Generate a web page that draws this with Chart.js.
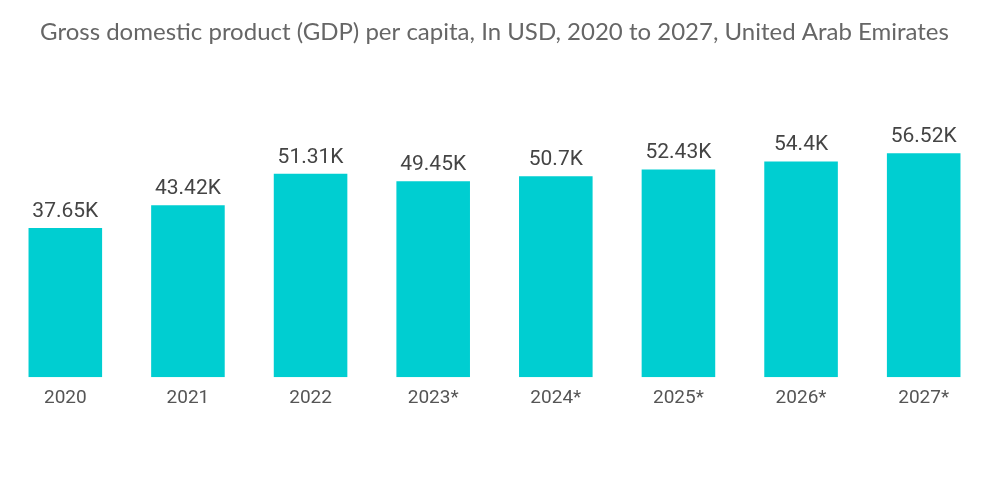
<!DOCTYPE html>
<html>
<head>
<meta charset="utf-8">
<script src="https://cdn.jsdelivr.net/npm/chart.js@4"></script>
<style>
	html, body { margin: 0; padding: 0; background: #fff; }
	#wrap { width: 1000px; height: 504px; }
</style>
</head>
<body>
<div id="wrap"><canvas id="gdpChart"></canvas></div>
<script>
const years = ['2020', '2021', '2022', '2023*', '2024*', '2025*', '2026*', '2027*'];
const gdpPerCapita = [37.65, 43.42, 51.31, 49.45, 50.7, 52.43, 54.4, 56.52];
const valueLabels = ['37.65K', '43.42K', '51.31K', '49.45K', '50.7K', '52.43K', '54.4K', '56.52K'];

// draws the value text above each bar
const barValues = {
	id: 'barValues',
	afterDatasetsDraw(chart) {
		const ctx = chart.ctx;
		const meta = chart.getDatasetMeta(0);
		ctx.save();
		ctx.font = '21px Roboto, sans-serif';
		ctx.fillStyle = '#444';
		ctx.textAlign = 'center';
		ctx.textBaseline = 'bottom';
		meta.data.forEach((bar, i) => {
			ctx.fillText(valueLabels[i], bar.x, bar.y - 6);
		});
		ctx.restore();
	}
};

let chart = new Chart(document.getElementById('gdpChart'), {
	type: 'bar',
	data: {
		labels: years,
		datasets: [{
			data: gdpPerCapita,
			backgroundColor: '#00CED1',
			categoryPercentage: 1,
			barPercentage: 0.6
		}]
	},
	options: {
		responsive: true,
		maintainAspectRatio: false,
		animation: false,
		devicePixelRatio: 1,
		layout: { padding: { left: 4, right: 15, top: 0, bottom: 92 } },
		plugins: {
			legend: { display: false },
			tooltip: { enabled: false },
			title: {
				display: true,
				text: 'Gross domestic product (GDP) per capita, In USD, 2020 to 2027, United Arab Emirates',
				color: '#666',
				font: { family: 'Lato, sans-serif', size: 24, weight: 'normal' },
				padding: { top: 18, bottom: 53 }
			}
		},
		scales: {
			x: {
				grid: { display: false },
				border: { display: false },
				ticks: {
					color: '#555',
					font: { family: 'Roboto, sans-serif', size: 19 },
					padding: 2
				}
			},
			y: {
				display: false,
				min: 0,
				max: 70
			}
		}
	},
	plugins: [barValues]
});
</script>
</body>
</html>
